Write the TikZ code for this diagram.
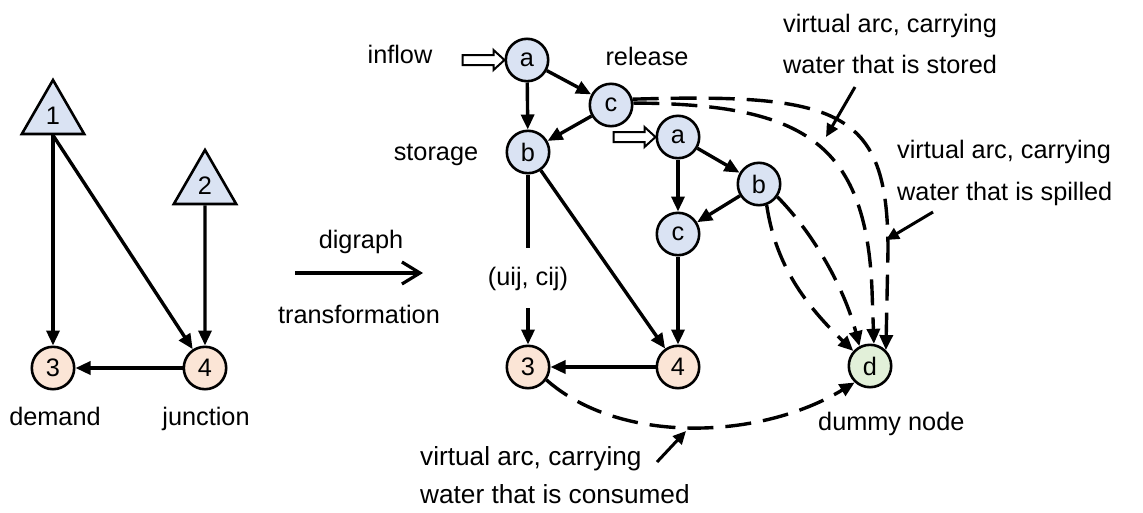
\documentclass[tikz,border=0pt]{standalone}
\usepackage{fontspec}
\setmainfont{Liberation Sans}
\usetikzlibrary{arrows.meta,shapes.geometric}
\definecolor{nodeblue}{HTML}{DAE3F3}
\definecolor{nodeorange}{HTML}{FBE5D6}
\definecolor{nodegreen}{HTML}{E2F0D9}
\begin{document}
\begin{tikzpicture}[x=1pt,y=-1pt,
  every node/.style={font=\fontsize{25.3}{30}\selectfont},
  vtx/.style={circle, draw, line width=2.6pt, minimum size=42.4pt, inner sep=0pt},
  src/.style={vtx, fill=nodeblue},
  dem/.style={vtx, fill=nodeorange},
  sink/.style={vtx, fill=nodegreen},
  reservoir/.style={regular polygon, regular polygon sides=3, draw, line width=2.6pt,
    fill=nodeblue, minimum size=72pt, inner sep=0pt},
  arc/.style={line width=3.4pt, -{Triangle[length=15pt,width=13pt]}},
  plain/.style={line width=3.4pt},
  virt/.style={arc, dash pattern=on 26pt off 12pt},
  pointer/.style={line width=3pt, -{Triangle[length=13pt,width=12pt]}},
  lbl/.style={anchor=base, inner sep=0pt},
  lblw/.style={anchor=base west, inner sep=0pt},
  note/.style={lblw, font=\fontsize{26.2}{30}\selectfont},
  hollow/.style={draw, line width=2pt, fill=white, line join=miter}
]
\useasboundingbox (0,0) rectangle (1143,512);

% ---- original network ----
\node[reservoir] (t1) at (53,116) {1};
\node[reservoir] (t2) at (205,186) {2};
\node[dem] (l3) at (53,368) {3};
\node[dem] (l4) at (205,368) {4};
\node[lbl] (demand) at (55,425) {demand};
\node[lbl] (junction) at (206,425) {junction};
\draw[arc] (t1.side 2) -- (l3);
\draw[arc] (t1.side 2) -- (l4);
\draw[arc] (t2) -- (l4);
\draw[arc] (l4) -- (l3);

% ---- transformation arrow ----
\node[lbl] (dg) at (361,248) {digraph};
\node[lbl] (tf) at (359,323) {transformation};
\coordinate (tfA) at (295,273);
\coordinate (tfB) at (423,273);
\draw[line width=3.2pt, -{Straight Barb[length=18pt,width=22pt]}] (tfA) -- (tfB);

% ---- expanded digraph ----
\node[src] (aT) at (527,60) {a};
\node[src] (cT) at (611,105) {c};
\node[src] (bT) at (528,152) {b};
\node[src] (a2) at (678,137) {a};
\node[src] (b2) at (759,184) {b};
\node[src] (c2) at (678,234) {c};
\node[dem] (r3) at (528,367) {3};
\node[dem] (r4) at (678,367) {4};
\node[sink] (d) at (870,366) {d};

\node[lbl] (inflow) at (400,63) {inflow};
\node[lbl] (release) at (647,65) {release};
\node[lbl] (storage) at (436,160) {storage};
\node[anchor=base, inner xsep=0pt, inner ysep=18pt] (uij) at (528,285) {(uij, cij)};
\node[lblw] (dummy) at (818,430) {dummy node};

% inflow arrows
\draw[hollow] (aT.west) -- ++(-11,-10) -- ++(0,5) -- ++(-31,0) -- ++(0,10)
  -- ++(31,0) -- ++(0,5) -- cycle;
\draw[hollow] (a2.west) -- ++(-11,-10) -- ++(0,5) -- ++(-31,0) -- ++(0,10)
  -- ++(31,0) -- ++(0,5) -- cycle;

% real arcs
\draw[arc] (aT) -- (bT);
\draw[arc] (aT) -- (cT);
\draw[arc] (cT) -- (bT);
\draw[plain] (bT) -- (uij);
\draw[arc] (uij) -- (r3);
\draw[arc] (bT) -- (r4);
\draw[arc] (r4) -- (r3);
\draw[arc] (a2) -- (c2);
\draw[arc] (a2) -- (b2);
\draw[arc] (b2) -- (c2);
\draw[arc] (c2) -- (r4);

% virtual arcs into the dummy node
\draw[virt] (cT.15) .. controls (840,93) and (888,110) .. (888,250) -- (d.45);
\draw[virt] (cT.5) .. controls (800,104) and (866,140) .. (872,290) -- (d.80);
\draw[virt] (b2.-70) .. controls (775,260) and (800,300) .. (d.138);
\draw[virt] (b2.-35) .. controls (815,235) and (845,290) .. (d.118);
\draw[virt] (r3.-35) .. controls (620,445) and (760,440) .. (d.-133);

% annotations
\node[lblw] (st1) at (783,32) {virtual arc, carrying};
\node[lblw] (st2) at (783,73) {water that is stored};
\node[lblw] (sp1) at (897,158) {virtual arc, carrying};
\node[lblw] (sp2) at (897,200) {water that is spilled};
\node[note] (co1) at (420,465) {virtual arc, carrying};
\node[note] (co2) at (420,503) {water that is consumed};

\coordinate (stA) at (855,87);  \coordinate (stB) at (826,137);
\coordinate (spA) at (933,212); \coordinate (spB) at (886,240);
\coordinate (coA) at (657,462); \coordinate (coB) at (686,431);
\draw[pointer] (stA) -- (stB);
\draw[pointer] (spA) -- (spB);
\draw[pointer] (coA) -- (coB);
\end{tikzpicture}
\end{document}
